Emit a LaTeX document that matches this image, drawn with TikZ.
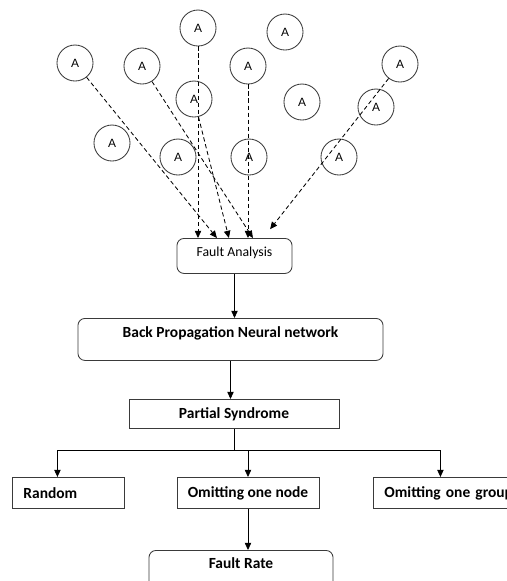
\documentclass[tikz,border=0pt]{standalone}
\usepackage{fontspec}
\setmainfont{Carlito}
\newfontfamily\circfont{Liberation Sans}
\usetikzlibrary{arrows.meta,positioning}
\definecolor{boxgray}{HTML}{3A3A3A}

\begin{document}
\begin{tikzpicture}[x=0.025cm, y=-0.025cm,
    agent/.style={circle, draw=boxgray, line width=0.6pt, minimum size=0.9cm, inner sep=0pt, font=\circfont\fontsize{8.5}{10}\selectfont},
    flowbox/.style={rectangle, draw=boxgray, line width=0.6pt, font=\bfseries\fontsize{11}{13}\selectfont},
    roundbox/.style={flowbox, rounded corners=5pt},
    dasharrow/.style={-{Triangle[length=1.8mm,width=1.6mm]}, dash pattern=on 3pt off 2pt, line width=0.6pt},
    solidarrow/.style={-{Triangle[length=1.8mm,width=1.6mm]}, line width=0.6pt}]

        \useasboundingbox (0,0) rectangle (507,581);
        \clip (0,0) rectangle (507,581);

        % Agents
        \node[agent] (a1) at (198,28) {A};
        \node[agent] (a2) at (285,32) {A};
        \node[agent] (a3) at (75,63) {A};
        \node[agent] (a4) at (142,66) {A};
        \node[agent] (a5) at (248,66) {A};
        \node[agent] (a6) at (400,64) {A};
        \node[agent] (a7) at (194,99) {A};
        \node[agent] (a8) at (302,102) {A};
        \node[agent] (a9) at (376,107) {A};
        \node[agent] (a10) at (112,143) {A};
        \node[agent] (a11) at (178,157) {A};
        \node[agent] (a12) at (249,157) {A};
        \node[agent] (a13) at (339,157) {A};

        % Fault Analysis
        \node[roundbox, font=\fontsize{9.8}{11}\selectfont, minimum width=2.875cm, text height=0.24cm, text depth=0.215cm, inner ysep=0.21cm, anchor=north] (fa) at (234.5,238) {Fault Analysis};

        % Back Propagation
        \node[roundbox, minimum width=7.625cm, text height=0.25cm, text depth=0.35cm, inner ysep=0.225cm, anchor=north] (bp) at (230.5,318) {Back Propagation Neural network};

        % Partial Syndrome
        \node[flowbox, minimum width=5.25cm, minimum height=0.725cm, anchor=north] (ps) at (234,399) {Partial Syndrome};

        % Methods
        \node[flowbox, text width=2.25cm, align=left, inner xsep=0.275cm, minimum height=0.775cm, anchor=north west] (rnd) at (12,477) {Random};
        \node[flowbox, minimum width=3.55cm, minimum height=0.775cm, anchor=north] (nd) at (248,477) {Omitting one node};
        \node[flowbox, text width=3.6cm, align=left, inner xsep=0.275cm, minimum height=0.775cm, anchor=north west] (grp) at (373,477) {Omitting one group};

        % Fault Rate
        \node[roundbox, minimum width=4.6cm, text height=0.24cm, text depth=0.39cm, inner ysep=0.21cm, anchor=north] (fr) at (241,550) {Fault Rate};

        % Dashed arrows
        \draw[dasharrow] (a1) -- (a1 |- fa.north);
        \draw[dasharrow] (a3) -- ([xshift=-0.44cm]fa.north);
        \draw[dasharrow] (a7) -- ([xshift=-0.14cm]fa.north);
        \draw[dasharrow] (a5) -- (a5 |- fa.north);
        \draw[dasharrow] (a4) -- ([xshift=0.46cm]fa.north);
        \draw[dasharrow] (a6) -- ([xshift=0.89cm, yshift=0.22cm]fa.north);

        % Arrows
        \coordinate (bus) at (231,450);
        \draw[solidarrow] (fa.south) -- (fa.south |- bp.north);
        \draw[solidarrow] (bp.south) -- (bp.south |- ps.north);
        \draw[line width=0.6pt] (ps.south) -- (ps.south |- bus);
        \draw[solidarrow] (bus) -| ([xshift=-0.275cm]rnd.north);
        \draw[solidarrow] (bus) -| ([xshift=-0.4cm]grp.north);
        \draw[solidarrow] (nd.north |- bus) -- (nd.north);
        \draw[solidarrow] (nd.south) -- (nd.south |- fr.north);

      \end{tikzpicture}
\end{document}
